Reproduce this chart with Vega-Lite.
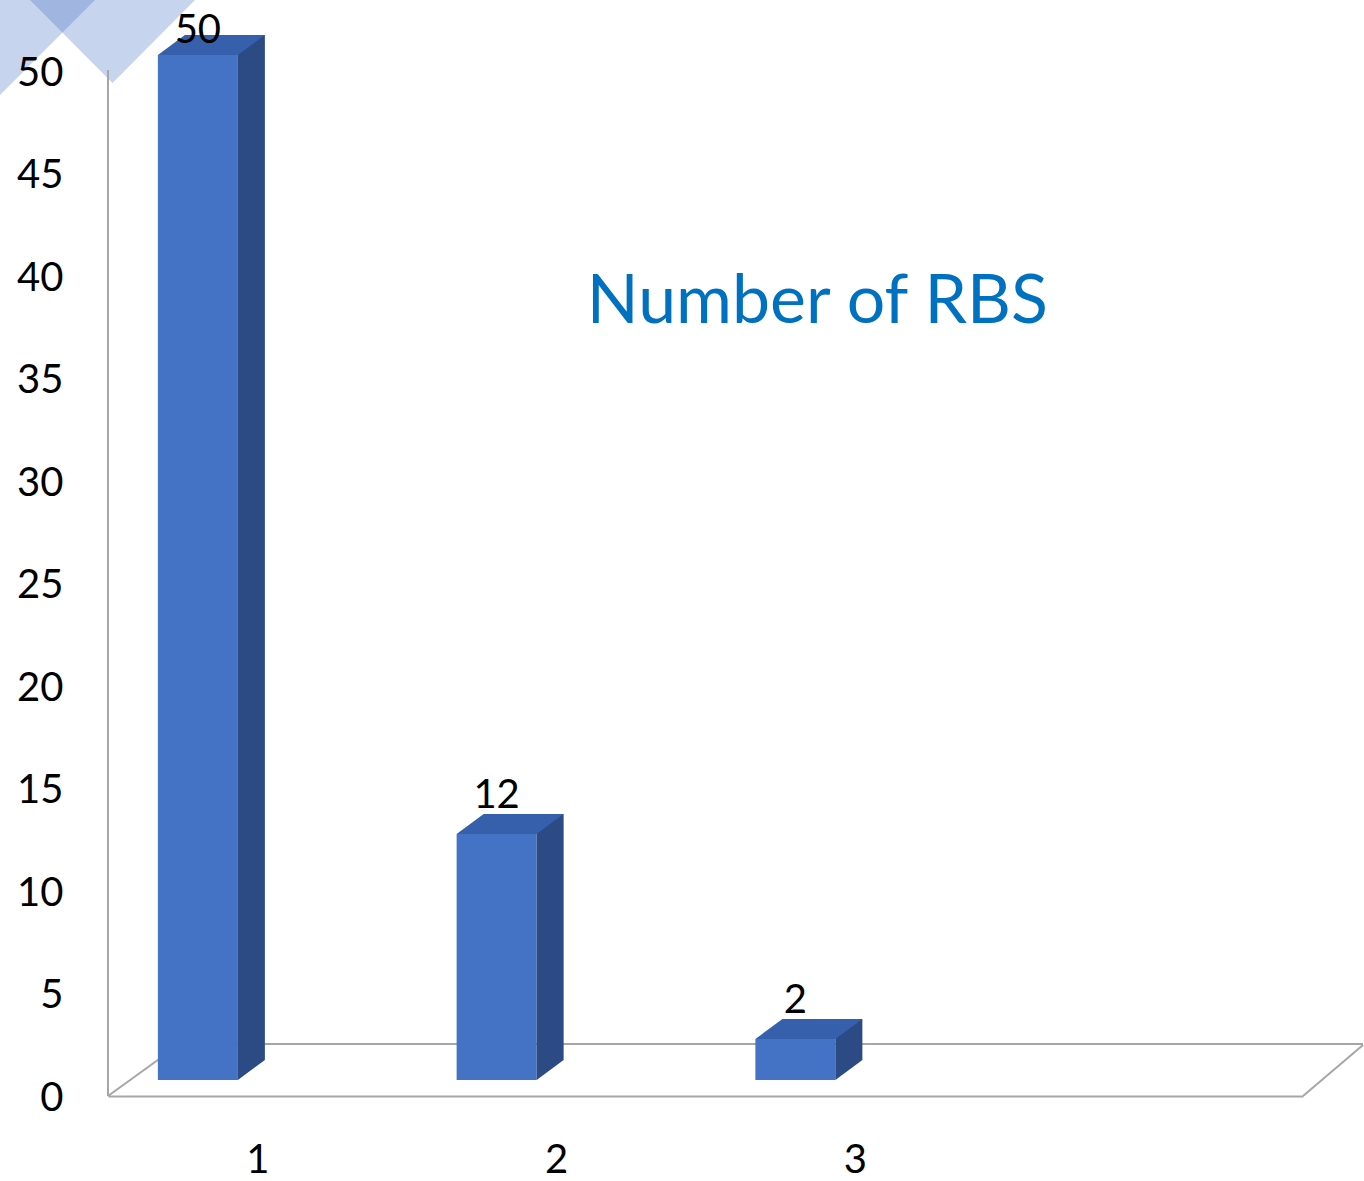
{
  "$schema": "https://vega.github.io/schema/vega-lite/v6.json",
  "width": 1195,
  "height": 1046,
  "autosize": "none",
  "padding": {"left": 108, "top": 50, "right": 61, "bottom": 85},
  "background": "white",
  "config": {"view": {"stroke": null}, "font": "Lato"},
  "datasets": {
    "rbs": [
      {"cat": "1", "value": 50},
      {"cat": "2", "value": 12},
      {"cat": "3", "value": 2}
    ]
  },
  "layer": [
    {
      "data": {"values": [{"name": "decoration A"}]},
      "mark": {"type": "point", "shape": "M -1 -1 L 1 -1 L -1 1 Z", "size": 9025, "filled": true, "fill": "#4472C4", "fillOpacity": 0.3, "opacity": 1, "strokeWidth": 0, "xOffset": -209.9, "yOffset": -7.5},
      "encoding": {
        "x": {"datum": "1", "type": "ordinal", "scale": {"domain": ["1", "2", "3", "4"], "paddingInner": 0, "paddingOuter": 0}},
        "y": {"datum": 50, "type": "quantitative", "scale": {"domain": [-0.78, 50.244], "nice": false, "zero": false}}
      }
    },
    {
      "data": {"values": [{"name": "decoration B"}]},
      "mark": {"type": "point", "shape": "M -1 -0.503 L 1 -0.503 L 0 0.503 Z", "size": 27225, "filled": true, "fill": "#4472C4", "fillOpacity": 0.3, "opacity": 1, "strokeWidth": 0, "xOffset": -144.9, "yOffset": -13.5},
      "encoding": {
        "x": {"datum": "1", "type": "ordinal"},
        "y": {"datum": 50, "type": "quantitative"}
      }
    },
    {
      "data": {"values": [{"edge": "floor back"}]},
      "mark": {"type": "rule", "color": "#A6A6A6", "strokeWidth": 2, "xOffset": -77.4, "x2Offset": 60, "yOffset": -36},
      "encoding": {
        "x": {"datum": "1", "type": "ordinal"},
        "x2": {"value": "width"},
        "y": {"datum": 0, "type": "quantitative"}
      }
    },
    {
      "data": {"values": [{"edge": "floor left"}]},
      "mark": {"type": "rule", "color": "#A6A6A6", "strokeWidth": 2, "xOffset": -149.4, "x2Offset": -77.4, "yOffset": 16, "y2Offset": -36},
      "encoding": {
        "x": {"datum": "1", "type": "ordinal"},
        "x2": {"datum": "1"},
        "y": {"datum": 0, "type": "quantitative"},
        "y2": {"datum": 0}
      }
    },
    {
      "data": {"values": [{"edge": "floor right"}]},
      "mark": {"type": "rule", "color": "#A6A6A6", "strokeWidth": 2, "x2Offset": 60, "yOffset": 16, "y2Offset": -35},
      "encoding": {
        "x": {"value": "width"},
        "x2": {"value": "width"},
        "y": {"datum": 0, "type": "quantitative"},
        "y2": {"datum": 0}
      }
    },
    {
      "data": {"values": [{"edge": "value axis line"}]},
      "mark": {"type": "rule", "color": "#A6A6A6", "strokeWidth": 2, "xOffset": -149.4, "x2Offset": -149.4},
      "encoding": {
        "x": {"datum": "1", "type": "ordinal"},
        "x2": {"datum": "1"},
        "y": {"datum": -0.78, "type": "quantitative"},
        "y2": {"datum": 49.27}
      }
    },
    {
      "data": {"name": "rbs"},
      "mark": {"type": "bar", "width": 80, "xOffset": -59.5, "color": "#4472C4"},
      "encoding": {
        "x": {
          "field": "cat", "type": "ordinal",
          "axis": {"title": null, "labelAngle": 0, "ticks": false, "domainColor": "#A6A6A6", "domainWidth": 2, "labelFontSize": 40, "labelColor": "black", "labelFont": "Lato", "labelPadding": 64, "labelOffset": 12, "labelExpr": "datum.value == '4' ? '' : datum.label", "zindex": 1}
        },
        "y": {
          "field": "value", "type": "quantitative",
          "axis": {"title": null, "values": [0, 5, 10, 15, 20, 25, 30, 35, 40, 45, 50], "ticks": false, "grid": false, "domain": false, "labelFontSize": 40, "labelColor": "black", "labelFont": "Lato", "labelPadding": 45, "labelOffset": 18, "zindex": 1}
        },
        "y2": {"datum": 0}
      }
    },
    {
      "data": {"name": "rbs"},
      "mark": {"type": "bar", "width": 27, "xOffset": -6, "yOffset": -20, "y2Offset": -20, "color": "#2C4A84"},
      "encoding": {
        "x": {"field": "cat", "type": "ordinal"},
        "y": {"field": "value", "type": "quantitative"},
        "y2": {"datum": 0}
      }
    },
    {
      "data": {"name": "rbs"},
      "mark": {"type": "point", "shape": "M -1 0.741 L -1 -0.741 L 1 -0.741 Z", "size": 729, "filled": true, "fill": "#2C4A84", "opacity": 1, "strokeWidth": 0, "xOffset": -6, "yOffset": -10},
      "encoding": {
        "x": {"field": "cat", "type": "ordinal"},
        "y": {"datum": 0, "type": "quantitative"}
      }
    },
    {
      "data": {"name": "rbs"},
      "mark": {"type": "point", "shape": "M -1 0.187 L 0.495 0.187 L 1 -0.187 L -0.495 -0.187 Z", "size": 11449, "filled": true, "fill": "#3760AC", "opacity": 1, "strokeWidth": 0, "xOffset": -46, "yOffset": -10},
      "encoding": {
        "x": {"field": "cat", "type": "ordinal"},
        "y": {"field": "value", "type": "quantitative"}
      }
    },
    {
      "data": {"name": "rbs"},
      "mark": {"type": "text", "fontSize": 40, "font": "Lato", "color": "black", "align": "center", "baseline": "alphabetic", "xOffset": -59.5, "dy": {"expr": "datum.value >= 50 ? -12 : -26"}},
      "encoding": {
        "x": {"field": "cat", "type": "ordinal"},
        "y": {"field": "value", "type": "quantitative"},
        "text": {"field": "value", "type": "quantitative"}
      }
    },
    {
      "data": {"values": [{"title": "Number of RBS"}]},
      "mark": {"type": "text", "fontSize": 68, "font": "Lato", "color": "#0070C0", "align": "center", "baseline": "alphabetic", "xOffset": -37.5, "yOffset": 1.5},
      "encoding": {
        "x": {"datum": "3", "type": "ordinal"},
        "y": {"datum": 37, "type": "quantitative"},
        "text": {"field": "title"}
      }
    }
  ]
}
